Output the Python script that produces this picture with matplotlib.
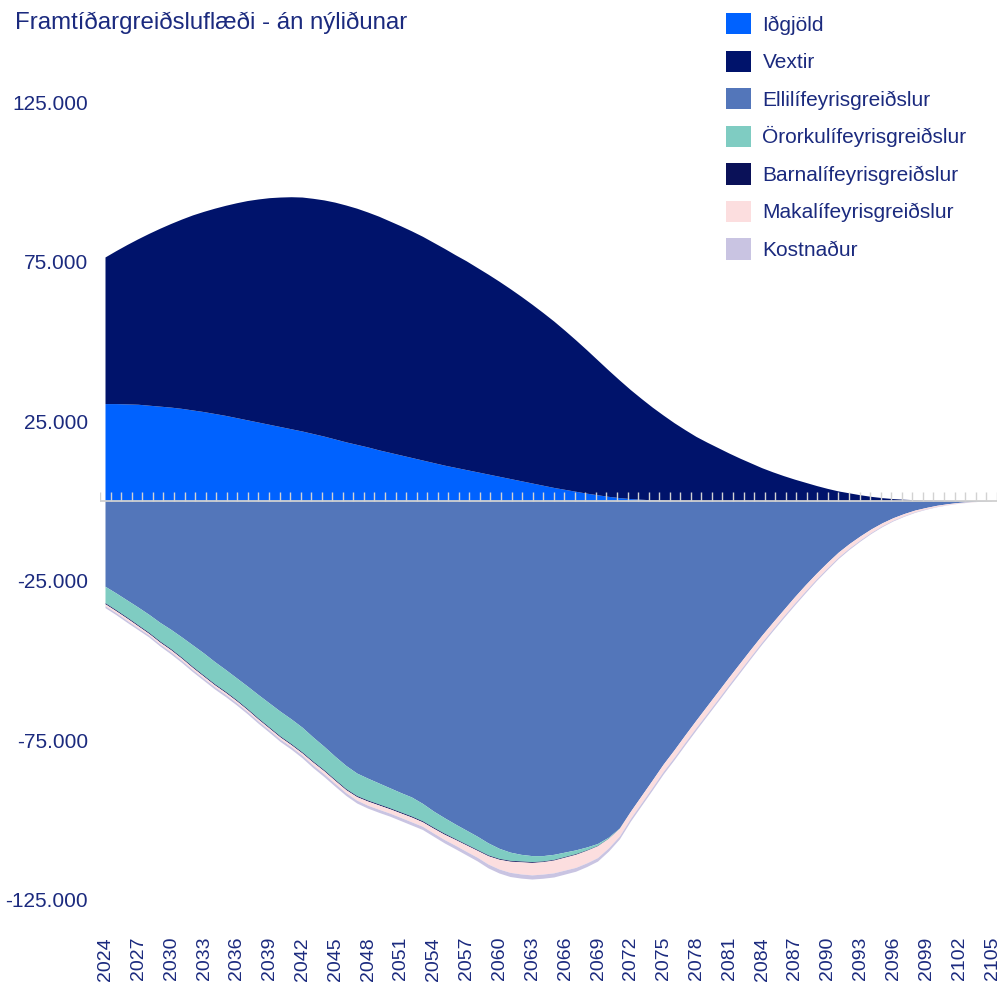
import matplotlib
matplotlib.use('Agg')
import matplotlib.pyplot as plt
import numpy as np
from matplotlib.patches import Patch

plt.rcParams['font.family'] = ['Liberation Sans', 'DejaVu Sans']

TXT = '#1B2A7E'

title = 'Framtíðargreiðsluflæði - án nýliðunar'
years = list(range(2024, 2106))

# values in thousands (ISK units shown as 125.000 etc.)
idgjold = [30.4, 30.4, 30.3, 30.2, 29.9, 29.6, 29.3, 28.9, 28.4, 27.9,
           27.3, 26.7, 26.0, 25.3, 24.6, 23.9, 23.2, 22.5, 21.8, 21.0,
           20.2, 19.3, 18.4, 17.6, 16.8, 15.9, 15.1, 14.3, 13.5, 12.7,
           11.9, 11.1, 10.4, 9.7, 9.0, 8.3, 7.6, 6.9, 6.2, 5.5,
           4.8, 4.1, 3.5, 2.9, 2.3, 1.8, 1.3, 0.9, 0.6, 0.4,
           0.2, 0.1, 0, 0, 0, 0, 0, 0, 0, 0,
           0, 0, 0, 0, 0, 0, 0, 0, 0, 0,
           0, 0, 0, 0, 0, 0, 0, 0, 0, 0,
           0, 0]
vextir = [46.0, 48.0, 50.0, 51.9, 53.9, 55.8, 57.6, 59.4, 61.2, 62.8,
          64.4, 65.9, 67.4, 68.8, 70.0, 71.1, 72.0, 72.8, 73.4, 73.8,
          74.1, 74.3, 74.3, 74.1, 73.7, 73.3, 72.6, 71.9, 71.1, 70.2,
          69.1, 68.0, 66.7, 65.5, 64.1, 62.7, 61.2, 59.6, 57.9, 56.1,
          54.2, 52.2, 49.9, 47.5, 45.0, 42.3, 39.6, 36.9, 34.2, 31.6,
          29.1, 26.7, 24.4, 22.2, 20.1, 18.3, 16.6, 14.9, 13.3, 11.8,
          10.3, 9.0, 7.8, 6.7, 5.7, 4.7, 3.8, 3.0, 2.4, 1.8,
          1.3, 0.9, 0.6, 0.4, 0.25, 0.15, 0.1, 0.06, 0.03, 0.02,
          0.01, 0.0]
elli = [26.9, 29.0, 31.2, 33.4, 35.7, 38.2, 40.4, 42.8, 45.3, 47.8,
        50.5, 53.0, 55.6, 58.2, 60.9, 63.5, 66.1, 68.5, 71.1, 74.2,
        77.1, 80.2, 83.1, 85.5, 87.1, 88.6, 90.1, 91.6, 93.0, 95.0,
        97.4, 99.5, 101.5, 103.4, 105.3, 107.4, 109.1, 110.3, 111.0, 111.4,
        111.4, 111.0, 110.3, 109.6, 108.7, 107.6, 105.6, 102.7, 97.5, 92.6,
        87.7, 82.7, 78.2, 73.5, 68.9, 64.4, 59.9, 55.4, 51.0, 46.6,
        42.3, 38.2, 34.2, 30.2, 26.4, 22.8, 19.4, 16.2, 13.5, 11.1,
        8.9, 7.0, 5.4, 4.1, 3.0, 2.2, 1.5, 1.0, 0.6, 0.35,
        0.15, 0.05]
ororku = [5.2, 5.3, 5.4, 5.6, 5.7, 5.9, 6.1, 6.4, 6.8, 7.0,
          7.0, 6.9, 6.9, 7.1, 7.4, 7.6, 7.8, 7.8, 7.8, 7.6,
          7.4, 7.3, 7.3, 7.1, 6.9, 6.6, 6.3, 6.1, 6.0, 5.5,
          5.1, 4.9, 4.6, 4.4, 4.2, 3.8, 3.2, 2.6, 2.1, 1.9,
          1.7, 1.6, 1.4, 1.2, 0.9, 0.6, 0.3, 0.1, 0, 0,
          0, 0, 0, 0, 0, 0, 0, 0, 0, 0,
          0, 0, 0, 0, 0, 0, 0, 0, 0, 0,
          0, 0, 0, 0, 0, 0, 0, 0, 0, 0,
          0, 0]
barna = [0.3, 0.3, 0.3, 0.3, 0.3, 0.3, 0.3, 0.3, 0.3, 0.3,
         0.3, 0.3, 0.3, 0.3, 0.3, 0.3, 0.3, 0.3, 0.3, 0.3,
         0.3, 0.3, 0.3, 0.3, 0.3, 0.3, 0.3, 0.3, 0.3, 0.3,
         0.3, 0.3, 0.25, 0.25, 0.25, 0.25, 0.25, 0.25, 0.25, 0.25,
         0.2, 0.2, 0.2, 0.2, 0.15, 0.12, 0.08, 0.05, 0.02, 0,
         0, 0, 0, 0, 0, 0, 0, 0, 0, 0,
         0, 0, 0, 0, 0, 0, 0, 0, 0, 0,
         0, 0, 0, 0, 0, 0, 0, 0, 0, 0,
         0, 0]
maka = [0.6, 0.6, 0.7, 0.6, 0.5, 0.6, 0.65, 0.65, 0.65, 0.65,
        0.6, 0.6, 0.6, 0.6, 0.6, 0.6, 0.65, 0.65, 0.7, 0.9,
        0.95, 0.95, 0.95, 1.1, 1.3, 1.35, 1.35, 1.4, 1.5, 1.4,
        1.5, 1.65, 1.8, 2.0, 2.15, 2.6, 3.05, 3.5, 3.8, 3.9,
        3.9, 4.0, 4.05, 4.1, 3.95, 3.7, 3.0, 2.4, 2.25, 2.3,
        2.3, 2.3, 2.35, 2.35, 2.35, 2.4, 2.4, 2.35, 2.3, 2.25,
        2.15, 2.1, 2.0, 2.0, 1.95, 1.8, 1.7, 1.55, 1.4, 1.25,
        1.1, 0.93, 0.77, 0.65, 0.53, 0.41, 0.34, 0.27, 0.19, 0.11,
        0.06, 0.02]
kostn = [0.6, 0.6, 0.6, 0.6, 0.6, 0.6, 0.65, 0.65, 0.65, 0.65,
         0.7, 0.7, 0.7, 0.7, 0.7, 0.7, 0.75, 0.75, 0.8, 0.8,
         0.85, 0.85, 0.85, 0.9, 0.9, 0.95, 0.95, 1.0, 1.0, 1.0,
         1.0, 1.05, 1.1, 1.1, 1.15, 1.2, 1.25, 1.3, 1.3, 1.3,
         1.3, 1.3, 1.25, 1.2, 1.15, 1.1, 1.0, 0.9, 0.85, 0.8,
         0.8, 0.8, 0.75, 0.75, 0.75, 0.7, 0.7, 0.7, 0.7, 0.65,
         0.65, 0.6, 0.6, 0.6, 0.55, 0.5, 0.5, 0.45, 0.4, 0.35,
         0.3, 0.27, 0.23, 0.2, 0.17, 0.14, 0.11, 0.08, 0.06, 0.04,
         0.02, 0.01]

pos_labels = ['Iðgjöld', 'Vextir']
neg_labels = ['Ellilífeyrisgreiðslur', 'Örorkulífeyrisgreiðslur',
              'Barnalífeyrisgreiðslur', 'Makalífeyrisgreiðslur', 'Kostnaður']
pos_colors = ['#0062FF', '#00136B']
neg_colors = ['#5376BA', '#7FCCC2', '#0A1158', '#FCDEDF', '#C9C4E2']

ytick_vals = [125, 75, 25, -25, -75, -125]
xtick_years = years[::3]

W, H = 1000, 984
X2024, X2105 = 105.5, 992.0
ppy = (X2105 - X2024) / 81.0          # pixels per year
def px2yr(p):
    return 2024 + (p - X2024) / ppy

x0, x1 = px2yr(100), px2yr(997)
ytop_px, ybot_px = 86.6, 915.4

fig = plt.figure(figsize=(W / 100, H / 100), dpi=100)
ax = fig.add_axes([100 / W, 1 - ybot_px / H, 897 / W, (ybot_px - ytop_px) / H])
ax.set_xlim(x0, x1)
ax.set_ylim(-130, 130)

yrs = np.array(years)
ax.stackplot(yrs, np.array(idgjold), np.array(vextir), colors=pos_colors, lw=0)
ax.stackplot(yrs, -np.array(elli), -np.array(ororku), -np.array(barna),
             -np.array(maka), -np.array(kostn), colors=neg_colors, lw=0)

# zero axis with small upward ticks
ticks_x = np.linspace(px2yr(100.2), px2yr(996.7), 86)
tick_h = 9 / 3.188
ax.vlines(ticks_x, 0, tick_h, colors='#D2D2D2', lw=1.0, zorder=5)
ax.plot([x0, x1], [0, 0], color='#D0D0D0', lw=1.3, zorder=6,
        solid_capstyle='butt', clip_on=False)

for s in ax.spines.values():
    s.set_visible(False)

ax.set_yticks(ytick_vals)
ax.set_yticklabels([f"{v * 1000:,.0f}".replace(',', '.') for v in ytick_vals])
ax.set_xticks(xtick_years)
ax.set_xticklabels([str(y) for y in xtick_years], rotation=90, va='top')
ax.tick_params(axis='y', length=0, pad=8.6, labelsize=15, labelcolor=TXT)
ax.tick_params(axis='x', length=0, pad=15.5, labelsize=14, labelcolor=TXT)

fig.text(15 / W, 1 - 29 / H, title, fontsize=17.3, color=TXT, va='baseline', ha='left')

handles = [Patch(facecolor=c, edgecolor='none') for c in pos_colors + neg_colors]
leg = fig.legend(handles, pos_labels + neg_labels, loc='upper left',
                 bbox_to_anchor=(726 / W, 1 - 13 / H), frameon=False,
                 fontsize=15, handlelength=1.2, handleheight=1.2,
                 handletextpad=0.55, labelspacing=0.76, borderpad=0,
                 borderaxespad=0)
for t in leg.get_texts():
    t.set_color(TXT)

fig.savefig('out.png', dpi=100)
